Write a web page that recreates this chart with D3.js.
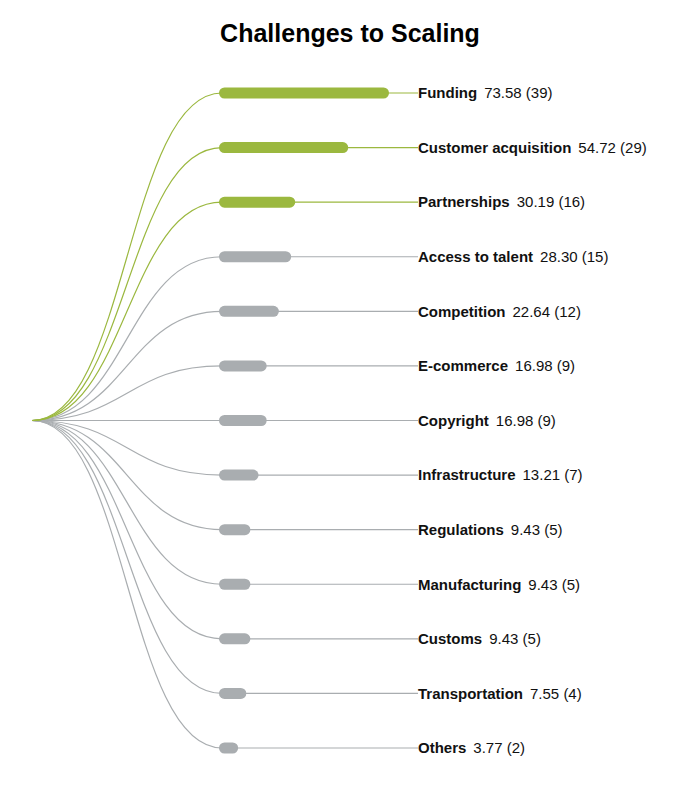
<!DOCTYPE html>
<html>
<head>
<meta charset="utf-8">
<script src="https://d3js.org/d3.v7.min.js"></script>
<style>
	body{ margin: 0; background: #fff; }
	text{ font-family: "Liberation Sans", Arial, sans-serif; }
	.link{ fill: none; stroke-width: 1.2; }
</style>
</head>
<body>
<script>
	var width = 700, height = 800;

	// chart data
	var categories = ["Funding", "Customer acquisition", "Partnerships", "Access to talent",
		"Competition", "E-commerce", "Copyright", "Infrastructure", "Regulations",
		"Manufacturing", "Customs", "Transportation", "Others"];
	var percents = [73.58, 54.72, 30.19, 28.30, 22.64, 16.98, 16.98, 13.21, 9.43, 9.43, 9.43, 7.55, 3.77];
	var counts = [39, 29, 16, 15, 12, 9, 9, 7, 5, 5, 5, 4, 2];
	var highlighted = ["Funding", "Customer acquisition", "Partnerships"];

	var green = "#9bb83f", grey = "#a9adb0";
	var rootX = 32, barX = 219, labelX = 418, barH = 11;

	var data = categories.map(function(c, i){
		return {name: c, pct: percents[i], n: counts[i]};
	});

	var svg = d3.select("body").append("svg")
		.attr("width", width).attr("height", height);

	svg.append("text")
		.attr("x", width/2).attr("y", 42)
		.attr("text-anchor", "middle")
		.style("font-size", "25px").style("font-weight", "bold")
		.text("Challenges to Scaling");

	var y = d3.scalePoint().domain(categories).range([93, 748]);
	var w = d3.scaleLinear().domain([0, 73.58]).range([0, 159]);
	var rootY = (y.range()[0] + y.range()[1]) / 2;

	function col(d){ return highlighted.indexOf(d.name) >= 0 ? green : grey; }

	var link = d3.linkHorizontal().x(function(p){return p[0];}).y(function(p){return p[1];});

	// grey ones first so green sits on top
	var order = data.slice().reverse();

	svg.append("g").selectAll("path")
		.data(order)
		.enter().append("path")
		.attr("class", "link")
		.attr("stroke", col)
		.attr("d", function(d){
			return link({source: [rootX, rootY], target: [barX + 3, y(d.name)]});
		});

	svg.append("g").selectAll("line")
		.data(data)
		.enter().append("line")
		.attr("x1", barX).attr("x2", labelX)
		.attr("y1", function(d){return y(d.name);})
		.attr("y2", function(d){return y(d.name);})
		.attr("stroke", col).attr("stroke-width", 1.2);

	svg.append("g").selectAll("rect")
		.data(data)
		.enter().append("rect")
		.attr("x", barX)
		.attr("y", function(d){return y(d.name) - barH/2;})
		.attr("height", barH)
		.attr("width", function(d){return barH + w(d.pct);})
		.attr("rx", barH/2).attr("ry", barH/2)
		.attr("fill", col);

	var labels = svg.append("g").selectAll("text")
		.data(data)
		.enter().append("text")
		.attr("x", labelX)
		.attr("y", function(d){return y(d.name);})
		.attr("dy", "0.35em")
		.style("font-size", "15px")
		.attr("fill", "#111");

	labels.append("tspan")
		.style("font-weight", "bold")
		.text(function(d){return d.name;});
	labels.append("tspan")
		.attr("dx", 7)
		.text(function(d){return d.pct.toFixed(2) + " (" + d.n + ")";});
</script>
</body>
</html>
